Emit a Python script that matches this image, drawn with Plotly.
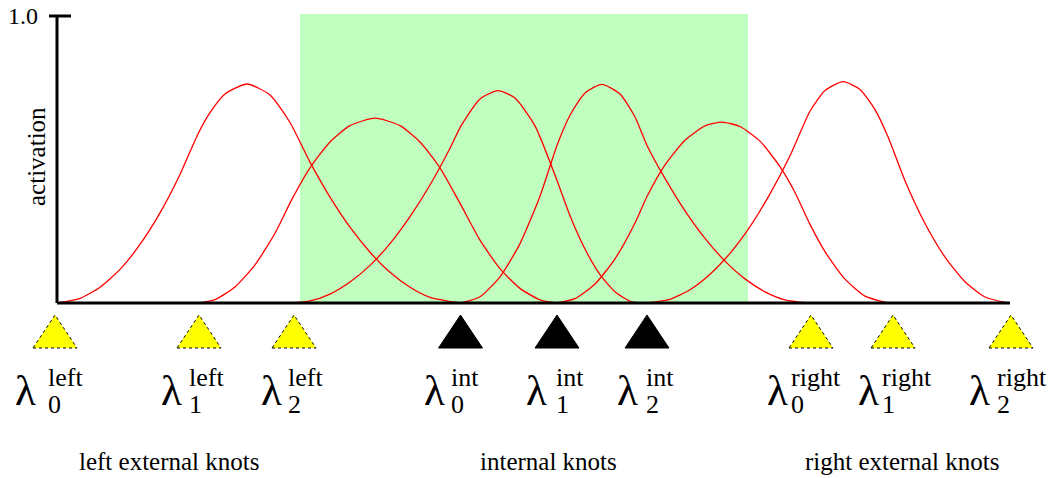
import plotly.graph_objects as go

# ---- basis-function curves (x: position along the axis, y: activation) ----
b1_x = [0, 23, 43, 63, 83, 103, 123, 141, 153, 168, 190, 213, 233, 253, 273, 293, 313, 333, 353, 373, 403]
b1_y = [0, 0.016, 0.055, 0.117, 0.204, 0.314, 0.448, 0.589, 0.663, 0.728, 0.763, 0.725, 0.629, 0.491,
        0.369, 0.264, 0.177, 0.107, 0.055, 0.020, 0]

b2_x = [141, 158, 178, 198, 218, 235, 253, 273, 293, 318, 343, 363, 383, 404, 423, 443, 463, 483, 500]
b2_y = [0, 0.012, 0.056, 0.133, 0.243, 0.362, 0.471, 0.561, 0.618, 0.644, 0.618, 0.561, 0.471, 0.341,
        0.219, 0.120, 0.051, 0.011, 0]

b3_x = [235, 253, 273, 293, 313, 333, 353, 373, 393, 404, 423, 441, 458, 478, 500, 513, 528, 543, 558, 573, 583]
b3_y = [0, 0.007, 0.031, 0.073, 0.131, 0.207, 0.301, 0.411, 0.539, 0.617, 0.711, 0.740, 0.714, 0.617,
        0.427, 0.304, 0.188, 0.099, 0.039, 0.006, 0]

b4_x = [404, 423, 443, 463, 483, 500, 513, 528, 545, 563, 578, 590, 608, 628, 648, 668, 688, 708, 728, 751]
b4_y = [0, 0.022, 0.091, 0.207, 0.372, 0.549, 0.654, 0.732, 0.762, 0.728, 0.648, 0.549, 0.434, 0.321,
        0.225, 0.146, 0.084, 0.039, 0.011, 0]

b5_x = [500, 518, 538, 558, 578, 590, 608, 628, 648, 665, 683, 703, 723, 738, 753, 768, 788, 808, 831]
b5_y = [0, 0.015, 0.066, 0.154, 0.279, 0.371, 0.481, 0.567, 0.617, 0.630, 0.615, 0.564, 0.475, 0.385,
        0.274, 0.179, 0.083, 0.024, 0]

b6_x = [590, 613, 633, 653, 673, 693, 713, 733, 753, 768, 786, 803, 818, 831, 848, 868, 888, 908, 928, 951]
b6_y = [0, 0.013, 0.046, 0.100, 0.173, 0.266, 0.380, 0.513, 0.668, 0.740, 0.771, 0.744, 0.674, 0.579,
        0.426, 0.277, 0.160, 0.074, 0.021, 0]

# ---- knots ----
left_knots = [-2, 142, 237]
internal_knots = [403.5, 500, 590]
right_knots = [754, 836, 954]
subscripts = ["0", "1", "2"]

# span of the internal (green) interval
interval = [243, 691]

# ---- layout constants ----
FONT = "Liberation Serif"
Y_LO, Y_HI = -175 / 287, 289 / 287
TRI_HALF_W = 22
TRI_TOP, TRI_BOT = -12 / 287, -45 / 287

fig = go.Figure()

fig.add_shape(type="rect", xref="x", yref="y", x0=interval[0], x1=interval[1], y0=0, y1=Y_HI,
              fillcolor="#c0ffc0", line=dict(width=0), layer="below")

for bx, by in [(b1_x, b1_y), (b2_x, b2_y), (b3_x, b3_y), (b4_x, b4_y), (b5_x, b5_y), (b6_x, b6_y)]:
    fig.add_trace(go.Scatter(x=bx, y=by, mode="lines",
                             line=dict(color="#ff0000", width=1.3, shape="spline", smoothing=0.6),
                             hoverinfo="skip", showlegend=False))


def knot_triangle(k, fill, dash):
    fig.add_trace(go.Scatter(
        x=[k - TRI_HALF_W, k + TRI_HALF_W, k, k - TRI_HALF_W],
        y=[TRI_BOT, TRI_BOT, TRI_TOP, TRI_BOT],
        mode="lines", fill="toself", fillcolor=fill,
        line=dict(color="black", width=1, dash=dash),
        hoverinfo="skip", showlegend=False))


for k in left_knots + right_knots:
    knot_triangle(k, "#ffff00", "dot")
for k in internal_knots:
    knot_triangle(k, "black", "solid")

# axes drawn as lines from the origin, plus the tick at 1.0
fig.add_shape(type="line", xref="x", yref="y", x0=0, x1=953, y0=0, y1=0,
              line=dict(color="black", width=3))
fig.add_shape(type="line", xref="x", yref="y", x0=0, x1=0, y0=0, y1=1,
              line=dict(color="black", width=3))
fig.add_shape(type="line", xref="x", yref="y", x0=-8, x1=14, y0=1, y1=1,
              line=dict(color="black", width=3))

annotations = []


def ann(x, y, text, size, xanchor="center", yanchor="middle", angle=0):
    annotations.append(dict(x=x, y=y, xref="x", yref="y", text=text, showarrow=False,
                            xanchor=xanchor, yanchor=yanchor, textangle=angle,
                            font=dict(family=FONT, size=size, color="black")))


def py(v):
    return (303 - v) / 287


# knot labels: lambda with stacked super/subscript
label_specs = [
    (left_knots, "left", [-17, -15, -10], [-9, -12, -8]),
    (internal_knots, "int", [-14, -8, -7], [-12, -3, -3]),
    (right_knots, "right", [-21, -12, -19], [-22, -13, -16]),
]
for knots, sup, lam_off, script_off in label_specs:
    for k, sub, lo, so in zip(knots, subscripts, lam_off, script_off):
        ann(k + lo, py(390), "λ", 43, xanchor="right")
        ann(k + so, py(377), sup, 26, xanchor="left")
        ann(k + so, py(404), sub, 26, xanchor="left")

ann(112, py(461), "left external knots", 25)
ann(491, py(461), "internal knots", 25)
ann(845, py(461), "right external knots", 25)
ann(-21, py(157), "activation", 25, angle=-90)
ann(-17, 1.0, "1.0", 24, xanchor="right")

fig.update_layout(
    width=1050, height=478,
    margin=dict(l=0, r=0, t=14, b=0),
    paper_bgcolor="white", plot_bgcolor="white",
    showlegend=False,
    annotations=annotations,
    xaxis=dict(range=[-57, 993], showgrid=False, zeroline=False, showline=False,
               showticklabels=False, ticks=""),
    yaxis=dict(range=[Y_LO, Y_HI], showgrid=False, zeroline=False, showline=False,
               showticklabels=False, ticks=""),
)

fig.write_html("out.html")
